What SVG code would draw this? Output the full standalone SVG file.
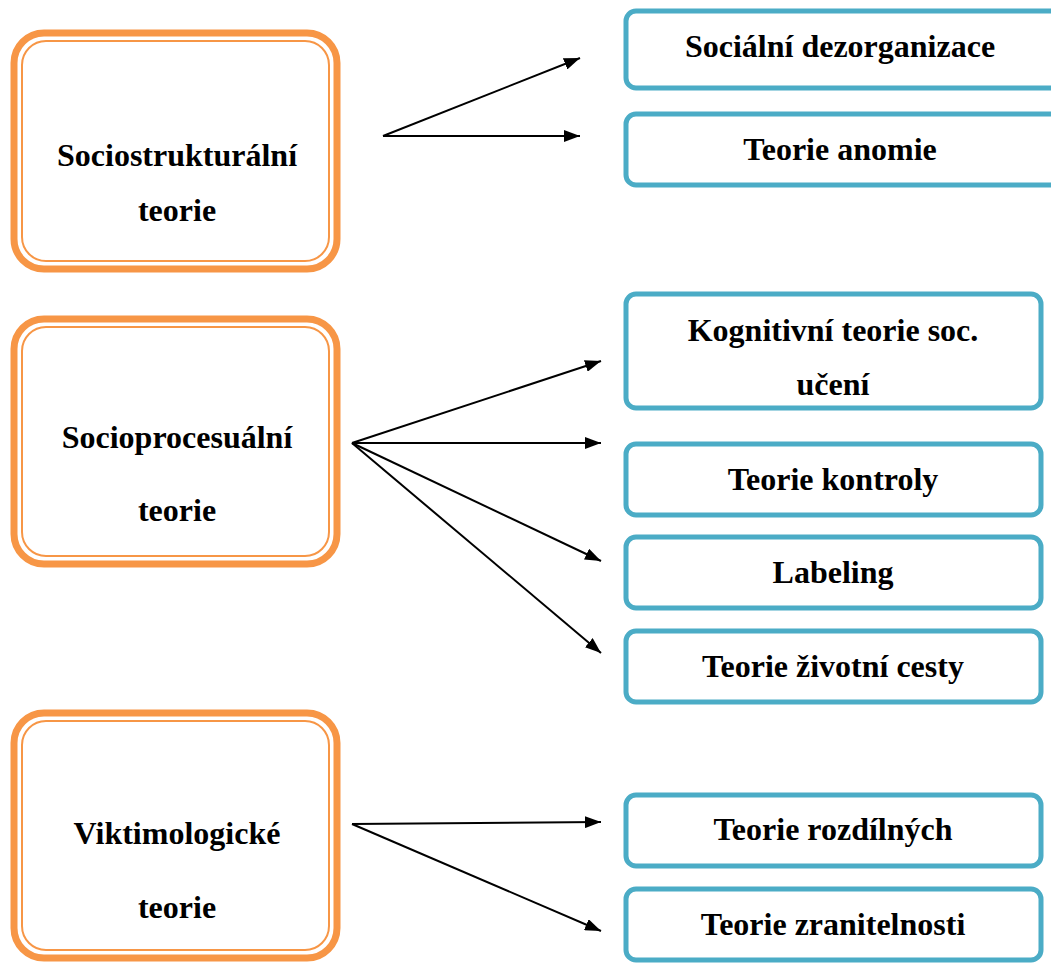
<svg xmlns="http://www.w3.org/2000/svg" width="1051" height="964" viewBox="0 0 1051 964">
<style>
.o1{fill:#fff;stroke:#f79646;stroke-width:7}
.o2{fill:none;stroke:#f79646;stroke-width:2}
.b{fill:#fff;stroke:#4bacc6;stroke-width:5}
.t{font-family:"Liberation Serif","Times New Roman",serif;font-weight:bold;font-size:32px;fill:#000;text-anchor:middle}
.c{stroke:#000;stroke-width:2;fill:none;marker-end:url(#ah)}
</style>
<defs>
<marker id="ah" viewBox="0 0 16 12" refX="16" refY="6" markerWidth="16" markerHeight="12" markerUnits="userSpaceOnUse" orient="auto"><path d="M0,0L16,6L0,12z" fill="#000"/></marker>
</defs>
<rect width="1051" height="964" fill="#fff"/>
<g id="n-sociostrukturalni">
<rect class="o1" x="14" y="33" width="323" height="236" rx="30"/>
<rect class="o2" x="22" y="41" width="307" height="220" rx="24"/>
<text class="t" x="177" y="166">Sociostrukturální</text>
<text class="t" x="177" y="221">teorie</text>
</g>
<g id="n-socioprocesualni">
<rect class="o1" x="14" y="319" width="323" height="245" rx="30"/>
<rect class="o2" x="22" y="327" width="307" height="229" rx="24"/>
<text class="t" x="177" y="448">Socioprocesuální</text>
<text class="t" x="177" y="521">teorie</text>
</g>
<g id="n-viktimologicke">
<rect class="o1" x="14" y="713" width="323" height="245" rx="30"/>
<rect class="o2" x="22" y="721" width="307" height="229" rx="24"/>
<text class="t" x="177" y="844">Viktimologické</text>
<text class="t" x="177" y="918">teorie</text>
</g>
<g id="n-socialni-dezorganizace">
<rect class="b" x="626" y="11" width="440" height="77" rx="10"/>
<text class="t" x="840" y="57">Sociální dezorganizace</text>
</g>
<g id="n-teorie-anomie">
<rect class="b" x="626" y="114" width="440" height="71" rx="10"/>
<text class="t" x="840" y="160">Teorie anomie</text>
</g>
<g id="n-kognitivni">
<rect class="b" x="626" y="294" width="415" height="114" rx="10"/>
<text class="t" x="833" y="341">Kognitivní teorie soc.</text>
<text class="t" x="833" y="395">učení</text>
</g>
<g id="n-teorie-kontroly">
<rect class="b" x="626" y="444" width="415" height="71" rx="10"/>
<text class="t" x="833" y="490">Teorie kontroly</text>
</g>
<g id="n-labeling">
<rect class="b" x="626" y="537" width="415" height="71" rx="10"/>
<text class="t" x="833" y="583">Labeling</text>
</g>
<g id="n-zivotni-cesty">
<rect class="b" x="626" y="631" width="415" height="71" rx="10"/>
<text class="t" x="833" y="677">Teorie životní cesty</text>
</g>
<g id="n-rozdilnych">
<rect class="b" x="626" y="795" width="415" height="71" rx="10"/>
<text class="t" x="833" y="840">Teorie rozdílných</text>
</g>
<g id="n-zranitelnosti">
<rect class="b" x="626" y="889" width="415" height="71" rx="10"/>
<text class="t" x="833" y="935">Teorie zranitelnosti</text>
</g>
<g id="connectors">
<line class="c" x1="383" y1="136" x2="580" y2="58"/>
<line class="c" x1="383" y1="136" x2="580" y2="136"/>
<line class="c" x1="352" y1="443" x2="601" y2="361"/>
<line class="c" x1="352" y1="443" x2="601" y2="443"/>
<line class="c" x1="352" y1="443" x2="601" y2="561"/>
<line class="c" x1="352" y1="443" x2="601" y2="653"/>
<line class="c" x1="352" y1="824" x2="601" y2="822"/>
<line class="c" x1="352" y1="824" x2="601" y2="931"/>
</g>
</svg>
